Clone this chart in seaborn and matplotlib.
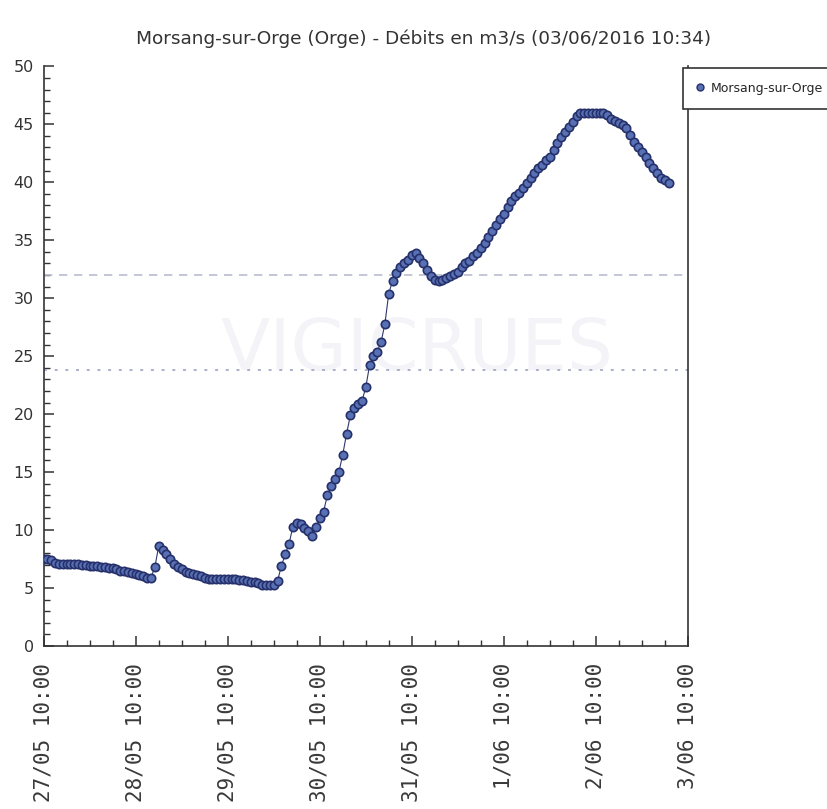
import pandas as pd
import numpy as np
import matplotlib
matplotlib.use("Agg")
import matplotlib.pyplot as plt
import matplotlib.dates as mdates
from matplotlib.lines import Line2D
from matplotlib.ticker import MultipleLocator
import seaborn as sns

# =========================
# DATA (hourly flow, m3/s)
# =========================

start = "2016-05-27 10:00"

debits = [
    7.5, 7.5, 7.4, 7.2, 7.1, 7.1, 7.1, 7.1, 7.1, 7.1,
    7.0, 7.0, 6.9, 6.9, 6.9, 6.8, 6.8, 6.7, 6.7, 6.6,
    6.5, 6.5, 6.4, 6.3, 6.2, 6.1, 6.0, 5.9, 5.9, 6.8,
    8.6, 8.3, 7.9, 7.5, 7.1, 6.8, 6.6, 6.4, 6.3, 6.2,
    6.1, 6.0, 5.9, 5.8, 5.8, 5.8, 5.8, 5.8, 5.8, 5.8,
    5.8, 5.7, 5.7, 5.6, 5.5, 5.5, 5.4, 5.3, 5.3, 5.3,
    5.3, 5.6, 6.9, 7.9, 8.8, 10.3, 10.6, 10.5, 10.2, 9.9,
    9.5, 10.3, 11.0, 11.6, 13.0, 13.8, 14.4, 15.0, 16.5, 18.3,
    19.9, 20.5, 20.9, 21.1, 22.3, 24.2, 25.0, 25.4, 26.2, 27.8,
    30.4, 31.5, 32.2, 32.7, 33.0, 33.3, 33.7, 33.9, 33.5, 33.0,
    32.4, 31.9, 31.6, 31.5, 31.6, 31.7, 31.9, 32.1, 32.3, 32.7,
    33.0, 33.2, 33.6, 33.9, 34.3, 34.8, 35.3, 35.8, 36.3, 36.8,
    37.3, 37.9, 38.4, 38.8, 39.1, 39.5, 39.9, 40.4, 40.8, 41.2,
    41.5, 41.9, 42.2, 42.8, 43.4, 43.9, 44.3, 44.8, 45.2, 45.7,
    46.0, 46.0, 46.0, 46.0, 46.0, 46.0, 46.0, 45.8, 45.5, 45.3,
    45.1, 44.9, 44.7, 44.1, 43.5, 43.0, 42.6, 42.2, 41.7, 41.2,
    40.8, 40.4, 40.2, 39.9,
]

seuil_haut = 32.0
seuil_bas = 23.8

tick_labels = ["27/05 10:00", "28/05 10:00", "29/05 10:00", "30/05 10:00",
               "31/05 10:00", "1/06 10:00", "2/06 10:00", "3/06 10:00"]

station = "Morsang-sur-Orge"
titre = "Morsang-sur-Orge (Orge) - Débits en m3/s (03/06/2016 10:34)"

times = pd.date_range(start, periods=len(debits), freq="h")
df = pd.DataFrame({"time": times, "debit": debits})
tick_times = pd.date_range(start, periods=len(tick_labels), freq="D")

# =========================
# STYLE
# =========================

sns.set_style("ticks")
plt.rcParams["font.family"] = ["DejaVu Sans"]

fig = plt.figure(figsize=(8.28, 8.09), dpi=100)
ax = fig.add_axes([0.0527, 0.2015, 0.778, 0.7165])

# watermark
ax.text(0.58, 0.51, "VIGICRUES", transform=ax.transAxes, ha="center", va="center",
        fontsize=52, color="#f4f4f8", zorder=0)

# threshold lines
ax.axhline(seuil_haut, color="#b8bcd0", lw=1.2, ls=(0, (5, 4)), zorder=1)
ax.axhline(seuil_bas, color="#aab0c8", lw=1.4, ls=(0, (1.5, 4)), zorder=1)

sns.lineplot(data=df, x="time", y="debit", ax=ax, color="#2c3870", lw=0.8,
             marker="o", markersize=6, markerfacecolor="#5870b4",
             markeredgecolor="#26306a", markeredgewidth=1.2, zorder=3,
             legend=False)

# =========================
# AXES
# =========================

ax.set_xlim(tick_times[0], tick_times[-1])
ax.set_ylim(0, 50)
ax.set_xticks(tick_times, tick_labels)
ax.xaxis.set_minor_locator(mdates.HourLocator(byhour=[4, 16, 22]))
ax.yaxis.set_major_locator(MultipleLocator(5))
ax.yaxis.set_minor_locator(MultipleLocator(1))

for lab in ax.get_xticklabels():
    lab.set_family("DejaVu Sans Mono")
    lab.set_fontsize(15)
    lab.set_rotation(90)
    lab.set_color("#3a3a3a")
for lab in ax.get_yticklabels():
    lab.set_fontsize(11.5)
    lab.set_color("#333333")

ax.tick_params(axis="both", which="major", direction="in", length=7, width=1.1,
               color="#333333")
ax.tick_params(axis="both", which="minor", direction="in", length=4, width=1,
               color="#333333")
ax.tick_params(axis="x", which="major", pad=12)
ax.tick_params(axis="y", which="major", pad=7)

ax.set_xlabel("")
ax.set_ylabel("")
ax.spines["top"].set_visible(False)
for s in ["left", "bottom", "right"]:
    ax.spines[s].set_color("#333333")
    ax.spines[s].set_linewidth(1.2)

fig.suptitle(titre, x=0.512, y=0.963, fontsize=13.3, color="#333333")

# legend box sitting over the top of the right spine
handle = Line2D([], [], ls="none", marker="o", markersize=5,
                markerfacecolor="#5870b4", markeredgecolor="#26306a")
leg = ax.legend([handle], [station], loc="upper left",
                bbox_to_anchor=(683 / 828, 1 - 68 / 809),
                bbox_transform=fig.transFigure, frameon=True, fancybox=False,
                edgecolor="#333333", framealpha=1, fontsize=9,
                handlelength=0.5, handletextpad=0.6, borderpad=1.1,
                borderaxespad=0)
leg.get_frame().set_linewidth(1.2)

fig.savefig("out.png", dpi=100)
